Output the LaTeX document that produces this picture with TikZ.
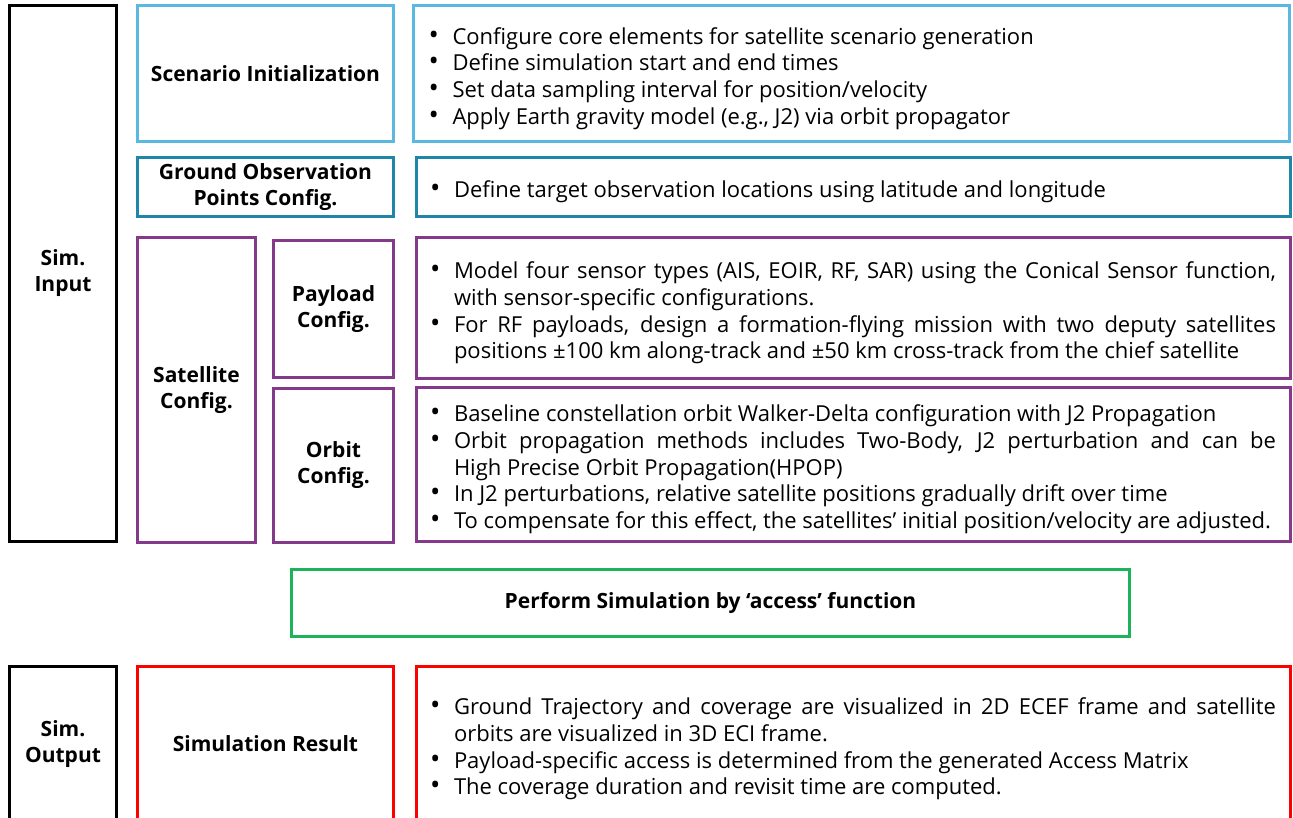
\documentclass[tikz,border=0pt]{standalone}
\usepackage{fontspec}
\setmainfont{Open Sans}
\definecolor{cLB}{HTML}{5BB8E0}
\definecolor{cTeal}{HTML}{1F86A8}
\definecolor{cPur}{HTML}{84398A}
\definecolor{cGrn}{HTML}{1DB35A}
\definecolor{cRed}{HTML}{FF0000}
\hyphenpenalty=10000
\exhyphenpenalty=10000
\newcommand\bitem{\par\noindent\hangindent=24pt\hangafter=1\makebox[24pt][l]{\scalebox{1.25}{\textbullet}}}
\newcommand\bx[7]{\node[box,#6,minimum width={#4-#2-3},minimum height={#5-#3-3}] (#1) at ({(#2+#4)/2},{(#3+#5)/2}) {#7};}
\tikzset{
  box/.style={draw,line width=3pt,outer sep=0pt,inner sep=0pt,align=center,text=black,font=\fontsize{21}{26}\selectfont\bfseries},
  desc/.style={font=\fontsize{22}{26.7}\selectfont,align=justify,text width=846pt,inner xsep=14pt},
}
\begin{document}
\begin{tikzpicture}[x=1pt,y=-1pt]
\useasboundingbox (0,0) rectangle (1293,818);
\clip (0,0) rectangle (1293,818);
\bx{simin}{8}{4}{118}{543}{draw=black}{Sim.\\Input}
\bx{scen}{136}{4}{395}{143}{draw=cLB}{Scenario Initialization}
\bx{scentxt}{412}{4}{1291}{143}{draw=cLB,desc}{\bitem Configure core elements for satellite scenario generation\bitem Define simulation start and end times\bitem Set data sampling interval for position/velocity\bitem Apply Earth gravity model (e.g., J2) via orbit propagator\par}
\bx{ground}{136}{156}{395}{218}{draw=cTeal}{Ground Observation\\Points Config.}
\bx{groundtxt}{415}{156}{1291}{218}{draw=cTeal,desc}{\bitem Define target observation locations using latitude and longitude\par}
\bx{sat}{136}{236}{257}{544}{draw=cPur}{Satellite\\Config.}
\bx{payload}{272}{239}{395}{379}{draw=cPur}{Payload\\Config.}
\bx{payloadtxt}{415}{236}{1291}{380}{draw=cPur,desc}{\bitem Model four sensor types (AIS, EOIR, RF, SAR) using the Conical Sensor function,\linebreak with sensor-specific configurations.\bitem For RF payloads, design a formation-flying mission with two deputy satellites\linebreak positions ±100 km along-track and ±50 km cross-track from the chief satellite\par}
\bx{orbit}{272}{387}{395}{544}{draw=cPur}{Orbit\\Config.}
\bx{orbittxt}{415}{386}{1291}{543}{draw=cPur,desc}{\bitem Baseline constellation orbit Walker-Delta configuration with J2 Propagation\bitem Orbit propagation methods includes Two-Body, J2 perturbation and can be\linebreak High Precise Orbit Propagation(HPOP)\bitem In J2 perturbations, relative satellite positions gradually drift over time\bitem To compensate for this effect, the satellites’ initial position/velocity are adjusted.\par}
\bx{perform}{290}{568}{1131}{638}{draw=cGrn}{Perform Simulation by ‘access’ function}
\bx{simout}{8}{665}{118}{823}{draw=black}{Sim.\\Output}
\bx{result}{136}{665}{395}{823}{draw=cRed}{Simulation Result}
\bx{resulttxt}{415}{665}{1291}{823}{draw=cRed,desc}{\bitem Ground Trajectory and coverage are visualized in 2D ECEF frame and satellite\linebreak orbits are visualized in 3D ECI frame.\bitem Payload-specific access is determined from the generated Access Matrix\bitem The coverage duration and revisit time are computed.\par}
\end{tikzpicture}
\end{document}
